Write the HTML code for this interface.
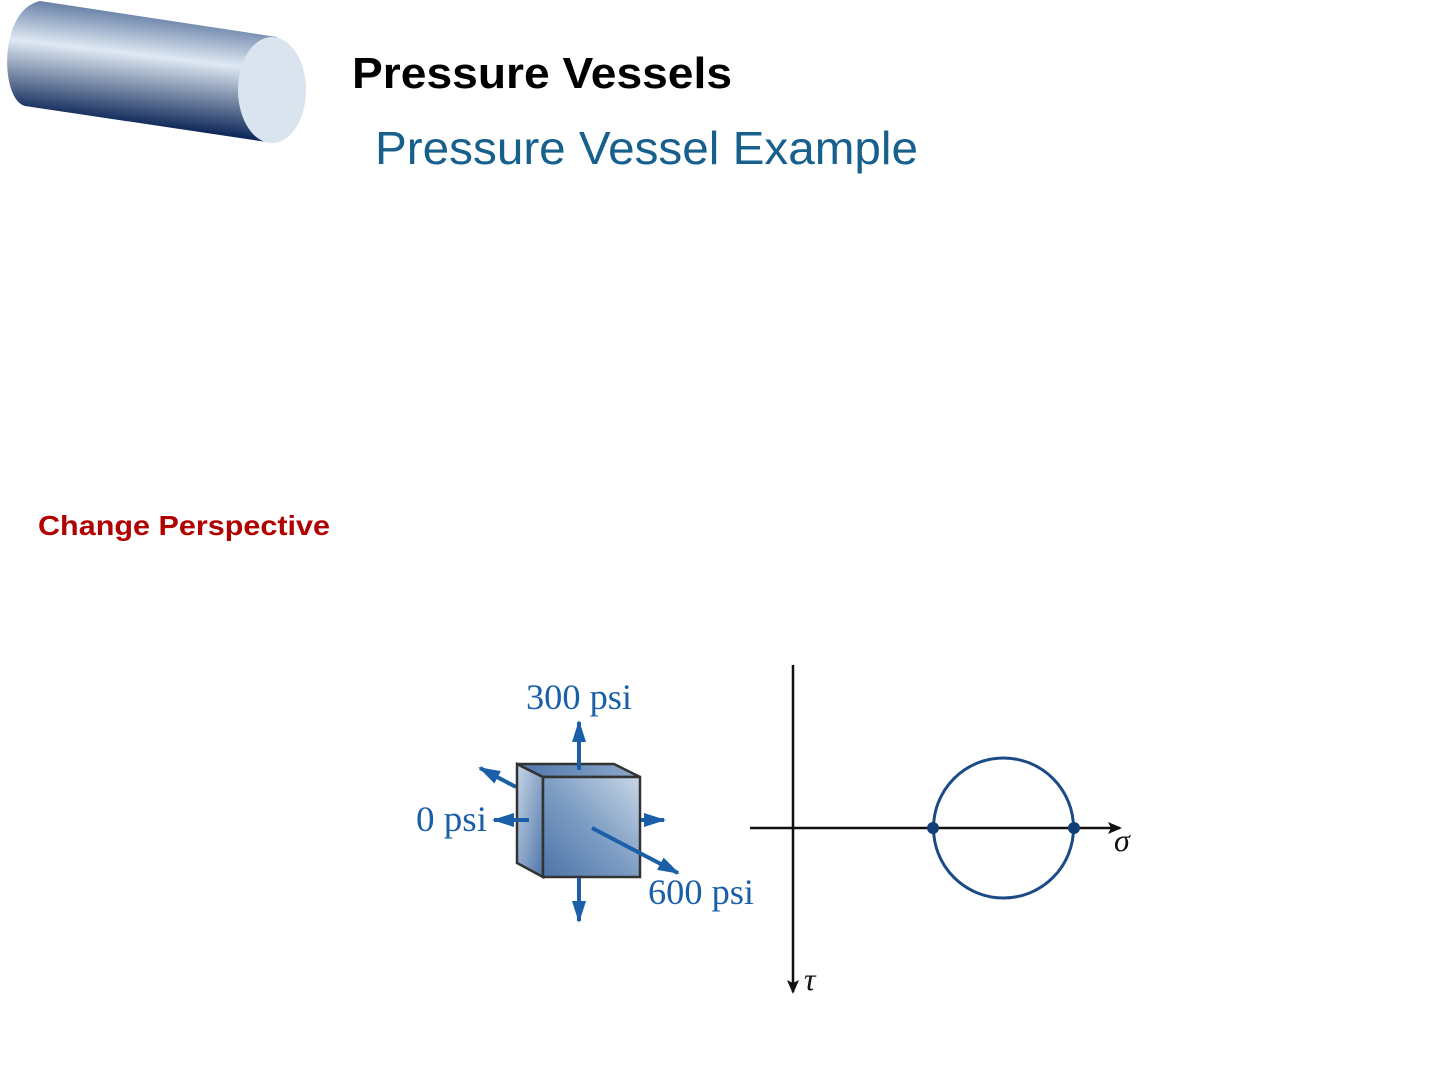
<!DOCTYPE html>
<html><head><meta charset="utf-8"><style>html,body{margin:0;padding:0;background:#fff;}svg{display:block}</style></head>
<body>
<svg width="1440" height="1080" viewBox="0 0 1440 1080" xmlns="http://www.w3.org/2000/svg">
<defs>
<linearGradient id="cyl" gradientUnits="userSpaceOnUse" x1="160" y1="0" x2="145" y2="125">
<stop offset="0" stop-color="#3d5a8c"/>
<stop offset="0.45" stop-color="#dfe9f3"/>
<stop offset="1" stop-color="#10295a"/>
</linearGradient>
<linearGradient id="face" x1="1" y1="0" x2="0" y2="1">
<stop offset="0" stop-color="#c9d7e6"/>
<stop offset="0.5" stop-color="#7e9ec4"/>
<stop offset="1" stop-color="#4d74a9"/>
</linearGradient>
<linearGradient id="side" x1="0" y1="0" x2="1" y2="1">
<stop offset="0" stop-color="#c9d7e6"/>
<stop offset="1" stop-color="#4f76aa"/>
</linearGradient>
<linearGradient id="top" x1="0" y1="0" x2="1" y2="0">
<stop offset="0" stop-color="#4f76aa"/>
<stop offset="1" stop-color="#8ea9cc"/>
</linearGradient>
<marker id="ak" markerWidth="14" markerHeight="12" refX="12" refY="6" orient="auto" markerUnits="userSpaceOnUse"><path d="M0,0 L14,6 L0,12 L3,6 Z" fill="#111"/></marker>
<marker id="abl" markerWidth="22" markerHeight="14" refX="20" refY="7" orient="auto" markerUnits="userSpaceOnUse"><path d="M0,0 L22,7 L0,14 Z" fill="#1a5fa8"/></marker>
</defs>
<path d="M40,1 L277,37 L267,142 L25,106 C0,100 -2,10 40,1 Z" fill="url(#cyl)"/>
<ellipse cx="272" cy="90" rx="34" ry="53" fill="#d9e4ef"/>
<text x="352" y="88" font-family="Liberation Sans, sans-serif" font-weight="bold" font-size="44" textLength="380" lengthAdjust="spacingAndGlyphs" fill="#000">Pressure Vessels</text>
<text x="375" y="164" font-family="Liberation Sans, sans-serif" font-size="46" textLength="543" lengthAdjust="spacingAndGlyphs" fill="#17608e">Pressure Vessel Example</text>
<text x="38" y="535" font-family="Liberation Sans, sans-serif" font-weight="bold" font-size="28" textLength="292" lengthAdjust="spacingAndGlyphs" fill="#b00000">Change Perspective</text>
<g stroke="#1a5fa8" stroke-width="4" fill="none">
<line x1="516" y1="787" x2="480" y2="768" marker-end="url(#abl)"/>
</g>
<polygon points="517,764 543,777 543,877 517,863" fill="url(#side)" stroke="#333" stroke-width="2.5"/>
<polygon points="517,764 614,764 640,777 543,777" fill="url(#top)" stroke="#333" stroke-width="2.5"/>
<rect x="543" y="777" width="97" height="100" fill="url(#face)" stroke="#333" stroke-width="2.5"/>
<g stroke="#1a5fa8" stroke-width="4" fill="none">
<line x1="579" y1="770" x2="579" y2="722" marker-end="url(#abl)"/>
<line x1="579" y1="878" x2="579" y2="921" marker-end="url(#abl)"/>
<line x1="529" y1="820" x2="494" y2="820" marker-end="url(#abl)"/>
<line x1="641" y1="820" x2="664" y2="820" marker-end="url(#abl)"/>
<line x1="592" y1="828" x2="678" y2="873" marker-end="url(#abl)"/>
</g>
<g font-family="Liberation Serif, serif" font-size="36" fill="#1a5fa8">
<text x="526" y="709" textLength="106" lengthAdjust="spacingAndGlyphs">300 psi</text>
<text x="416" y="831" textLength="71" lengthAdjust="spacingAndGlyphs">0 psi</text>
<text x="648" y="904" textLength="106" lengthAdjust="spacingAndGlyphs">600 psi</text>
</g>
<line x1="793" y1="665" x2="793" y2="992" stroke="#111" stroke-width="2.5" marker-end="url(#ak)"/>
<line x1="750" y1="828" x2="1120" y2="828" stroke="#111" stroke-width="2.5" marker-end="url(#ak)"/>
<circle cx="1003.5" cy="828" r="70" fill="none" stroke="#1b4a86" stroke-width="3"/>
<circle cx="933" cy="828" r="6" fill="#123e78"/>
<circle cx="1074" cy="828" r="6" fill="#123e78"/>
<g font-family="Liberation Serif, serif" font-style="italic" font-size="32" fill="#111">
<text x="1114" y="851">σ</text>
<text x="804" y="990">τ</text>
</g>
</svg>
</body></html>
